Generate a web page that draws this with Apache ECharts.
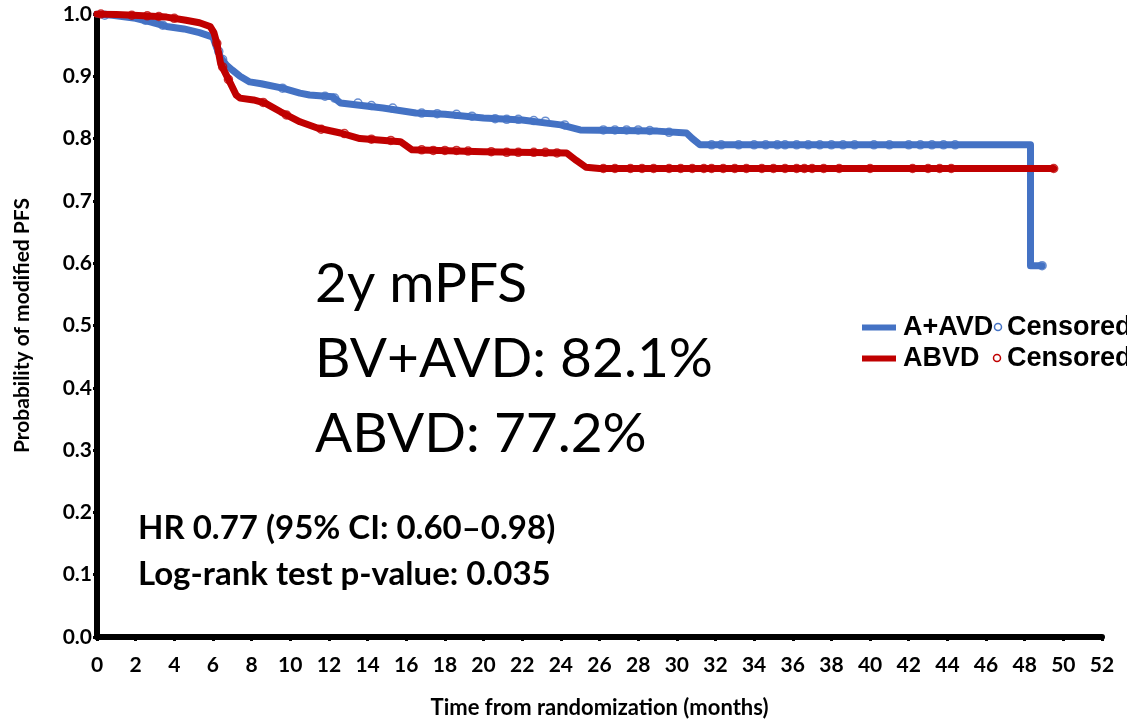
<!DOCTYPE html>
<html>
<head>
<meta charset="utf-8">
<script src="https://cdn.jsdelivr.net/npm/echarts@6/dist/echarts.min.js"></script>
<style>html,body{margin:0;padding:0;background:#fff}#c{width:1127px;height:720px}</style>
</head>
<body>
<div id="c"></div>
<script>
// ---- data ----
const xTicks = [0,2,4,6,8,10,12,14,16,18,20,22,24,26,28,30,32,34,36,38,40,42,44,46,48,50,52];
const yTicks = [0.0,0.1,0.2,0.3,0.4,0.5,0.6,0.7,0.8,0.9,1.0];

const bvTime = [0,0.8,1.5,2,2.8,3.6,4.5,5.3,6,6.2,6.4,6.7,7.0,7.4,7.9,8.5,9.6,10.5,11,12.2,12.6,14.8,16.5,18,20,22,24,25,29,30.5,30.8,31.2,48.3,48.3,48.9];
const bvSurv = [1.0,0.998,0.995,0.993,0.987,0.98,0.976,0.97,0.963,0.945,0.93,0.918,0.91,0.9,0.891,0.888,0.881,0.873,0.87,0.867,0.857,0.849,0.841,0.839,0.833,0.83,0.822,0.814,0.812,0.809,0.8,0.79,0.79,0.596,0.596];

const abvdTime = [0,1,1.9,3.6,4.6,5.3,5.85,6.05,6.2,6.4,6.9,7.2,7.4,8.1,8.7,9.5,10.5,11.4,12.6,13.6,15.7,16.3,20,24.3,24.8,25.3,26,49.5];
const abvdSurv = [1.0,0.999,0.998,0.995,0.99,0.986,0.98,0.97,0.953,0.92,0.889,0.87,0.865,0.862,0.857,0.843,0.827,0.817,0.809,0.80,0.795,0.782,0.779,0.777,0.765,0.754,0.752,0.752];

const bvCensTime = [0.4,2.5,3.4,6.3,6.5,9.6,11.8,12.3,13.5,14.2,15.3,16.8,17.6,18.6,19.4,20.6,21.2,21.8,22.6,23.2,24.2,26.2,26.8,27.4,28.0,28.6,29.6,31.8,32.3,33.2,34.0,34.6,35.2,35.6,36.2,36.8,37.4,38.0,38.6,39.2,40.2,41.0,42.0,42.6,43.2,43.8,44.4,48.9];
const bvCensSurv = [0.998,0.99,0.982,0.94,0.927,0.881,0.868,0.865,0.857,0.853,0.849,0.841,0.840,0.839,0.836,0.832,0.831,0.831,0.829,0.828,0.822,0.814,0.814,0.814,0.814,0.813,0.81,0.79,0.79,0.79,0.79,0.79,0.79,0.79,0.79,0.79,0.79,0.79,0.79,0.79,0.79,0.79,0.79,0.79,0.79,0.79,0.79,0.596];

const abvdCensTime = [0.2,1.8,2.6,3.2,4.0,6.2,6.5,6.8,8.6,9.8,11.6,12.8,14.2,15.2,16.8,17.4,18.0,18.6,19.2,20.4,21.2,21.8,22.6,23.2,23.8,26.2,26.8,27.6,28.2,28.8,29.6,30.2,30.8,31.4,31.8,32.4,33.0,33.6,34.4,35.0,35.6,36.2,36.6,37.0,37.6,38.4,40.0,42.2,43.0,43.6,44.2,49.5];
const abvdCensSurv = [1.0,0.998,0.997,0.996,0.993,0.953,0.915,0.895,0.858,0.838,0.815,0.808,0.799,0.797,0.782,0.781,0.781,0.781,0.780,0.779,0.778,0.778,0.778,0.778,0.777,0.752,0.752,0.752,0.752,0.752,0.752,0.752,0.752,0.752,0.752,0.752,0.752,0.752,0.752,0.752,0.752,0.752,0.752,0.752,0.752,0.752,0.752,0.752,0.752,0.752,0.752,0.752];

const seriesNames = ['A+AVD','ABVD'];
const censLabel = 'Censored';
const annoLines = ['2y mPFS','BV+AVD: 82.1%','ABVD: 77.2%'];
const statLines = ['HR 0.77 (95% CI: 0.60\u20130.98)','Log-rank test p-value: 0.035'];
const xTitle = 'Time from randomization (months)';
const yTitle = 'Probability of modified PFS';

// ---- chart ----
const BLUE = '#4472C4', RED = '#C00000';
const zip = (a,b) => a.map((v,i)=>[v,b[i]]);
const chart = echarts.init(document.getElementById('c'), null, {renderer:'canvas'});
const lab = {fontFamily:'Lato', fontWeight:'bold', color:'#000'};

chart.setOption({
  animation:false,
  backgroundColor:'#fff',
  grid:{left:97,right:25,top:14,bottom:83,containLabel:false,outerBoundsMode:'none'},
  xAxis:{
    type:'value',min:xTicks[0],max:xTicks[xTicks.length-1],interval:2,
    name:xTitle,nameLocation:'middle',nameGap:60,
    nameTextStyle:Object.assign({fontSize:22},lab),
    axisLine:{show:true,onZero:false,lineStyle:{color:'#000',width:6}},
    axisTick:{show:true,length:4,lineStyle:{color:'#000',width:3}},
    axisLabel:Object.assign({fontSize:21,margin:18,showMinLabel:true,showMaxLabel:true},lab),
    splitLine:{show:false}
  },
  yAxis:{
    type:'value',min:yTicks[0],max:yTicks[yTicks.length-1],interval:0.1,
    name:yTitle,nameLocation:'middle',nameGap:64,nameRotate:90,
    nameTextStyle:Object.assign({fontSize:21},lab),
    axisLine:{show:true,onZero:false,lineStyle:{color:'#000',width:6}},
    axisTick:{show:true,length:4,lineStyle:{color:'#000',width:3}},
    axisLabel:Object.assign({fontSize:21,margin:5,formatter:v=>v.toFixed(1),showMinLabel:true,showMaxLabel:true},lab),
    splitLine:{show:false}
  },
  legend:{
    show:true,orient:'vertical',left:862,top:314,padding:0,itemGap:4,
    itemWidth:34,itemHeight:6,icon:'rect',
    data:seriesNames,
    textStyle:{fontFamily:'Liberation Sans',fontWeight:'bold',fontSize:27,color:'#000',padding:[0,0,0,2]}
  },
  series:[
    {name:seriesNames[0],type:'line',data:zip(bvTime,bvSurv),showSymbol:false,symbol:'none',
     lineStyle:{color:BLUE,width:7,cap:'round',join:'round'},itemStyle:{color:BLUE},z:2},
    {name:seriesNames[0]+' '+censLabel,type:'scatter',data:zip(bvCensTime,bvCensSurv),symbol:'circle',symbolSize:8,
     itemStyle:{color:'rgba(0,0,0,0)',borderColor:BLUE,borderWidth:1.5},z:3},
    {name:seriesNames[1],type:'line',data:zip(abvdTime,abvdSurv),showSymbol:false,symbol:'none',
     lineStyle:{color:RED,width:7,cap:'round',join:'round'},itemStyle:{color:RED},z:4},
    {name:seriesNames[1]+' '+censLabel,type:'scatter',data:zip(abvdCensTime,abvdCensSurv),symbol:'circle',symbolSize:8,
     itemStyle:{color:'rgba(0,0,0,0)',borderColor:RED,borderWidth:1.5},z:5}
  ],
  graphic:[
    {type:'circle',shape:{cx:998,cy:327,r:3.5},style:{fill:'#fff',stroke:BLUE,lineWidth:1.5}},
    {type:'text',x:1007,y:328,style:{text:censLabel,fontFamily:'Liberation Sans',fontWeight:'bold',fontSize:27,fill:'#000',verticalAlign:'middle'}},
    {type:'circle',shape:{cx:997,cy:358,r:3.5},style:{fill:'#fff',stroke:RED,lineWidth:1.5}},
    {type:'text',x:1007,y:359,style:{text:censLabel,fontFamily:'Liberation Sans',fontWeight:'bold',fontSize:27,fill:'#000',verticalAlign:'middle'}},
    {type:'text',x:315,y:284,style:{text:annoLines[0],fontFamily:'Lato',fontSize:55,fill:'#000',verticalAlign:'middle'}},
    {type:'text',x:315,y:359,style:{text:annoLines[1],fontFamily:'Lato',fontSize:55,fill:'#000',verticalAlign:'middle'}},
    {type:'text',x:315,y:434,style:{text:annoLines[2],fontFamily:'Lato',fontSize:55,fill:'#000',verticalAlign:'middle'}},
    {type:'text',x:138,y:528,style:{text:statLines[0],fontFamily:'Lato',fontWeight:'bold',fontSize:33,fill:'#000',verticalAlign:'middle'}},
    {type:'text',x:138,y:574,style:{text:statLines[1],fontFamily:'Lato',fontWeight:'bold',fontSize:33,fill:'#000',verticalAlign:'middle'}}
  ]
});
</script>
</body>
</html>
